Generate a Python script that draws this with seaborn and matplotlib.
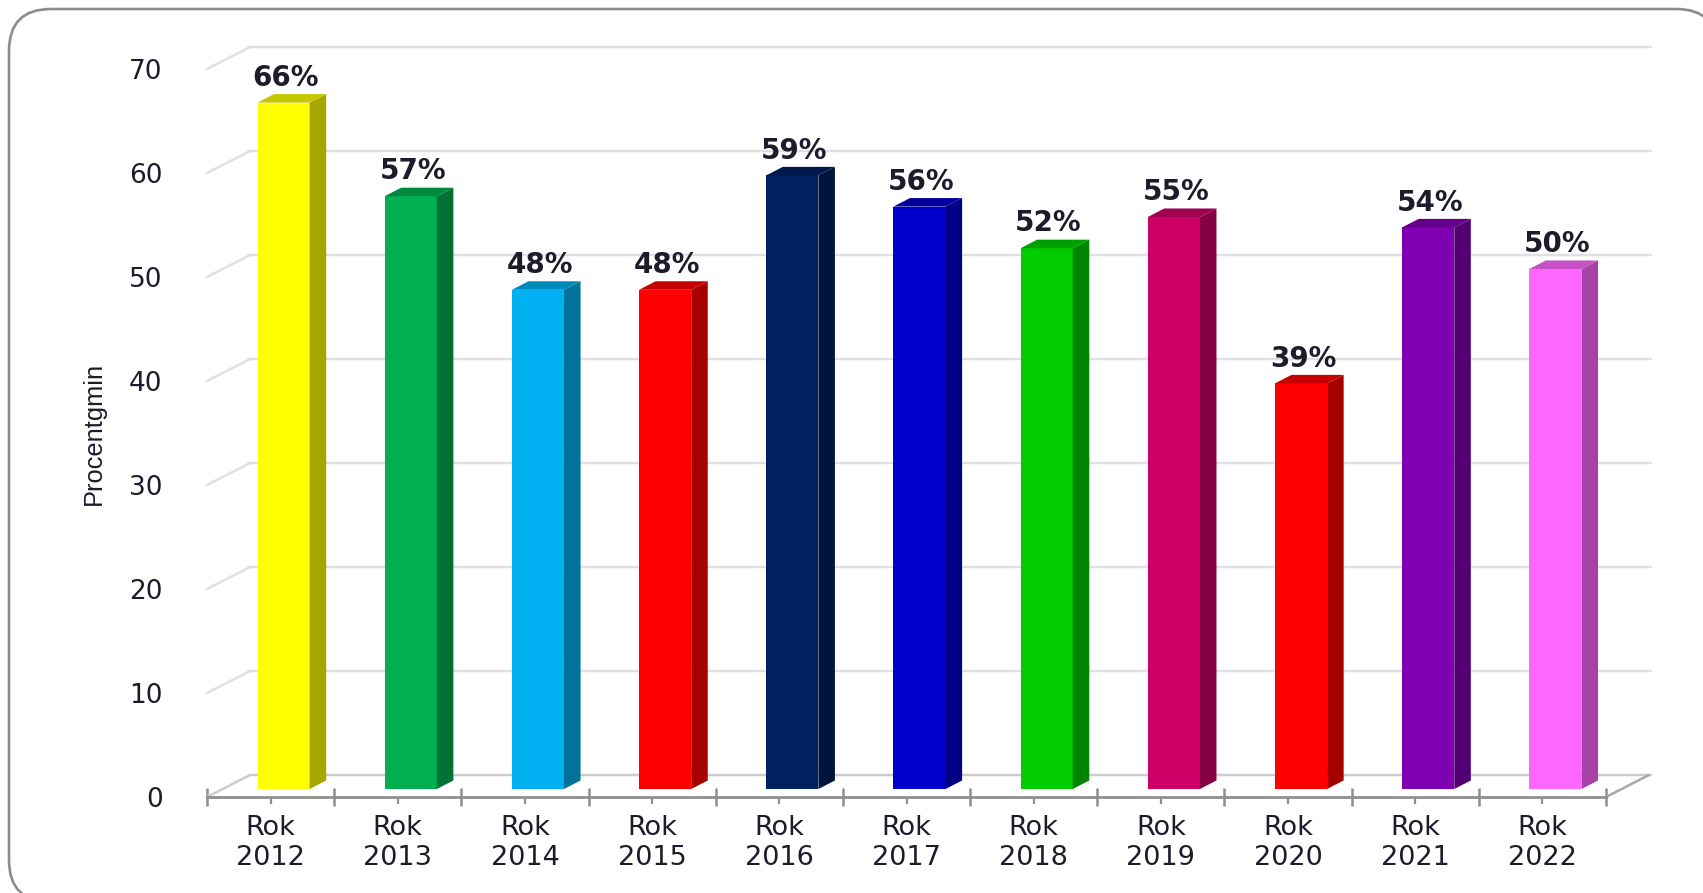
import matplotlib
matplotlib.use('Agg')
import matplotlib.pyplot as plt
import seaborn as sns
from matplotlib.colors import to_rgb
from matplotlib.patches import FancyBboxPatch, Polygon
from matplotlib.transforms import Affine2D

# values
years = ['2012', '2013', '2014', '2015', '2016', '2017', '2018', '2019', '2020', '2021', '2022']
percent = [66, 57, 48, 48, 59, 56, 52, 55, 39, 54, 50]
bar_colors = ['#FFFF00', '#00B050', '#00B0F0', '#FF0000', '#002060', '#0000CC',
              '#00CC00', '#CC0066', '#FF0000', '#7F00B2', '#FF66FF']
y_ticks = [0, 10, 20, 30, 40, 50, 60, 70]
labels = ['Rok\n' + y for y in years]

W, H = 1703, 893
TEXT = '#1c1c2c'
GREY = '#8f8f8f'

sns.set_theme(style='white')
plt.rcParams['font.family'] = ['DejaVu Sans']

fig = plt.figure(figsize=(W / 100, H / 100), dpi=100, facecolor='white')


def px_axes(left, right, bottom, top):
    return fig.add_axes([left / W, 1 - bottom / H, (right - left) / W, (bottom - top) / H])


# rounded frame, runs off the right and bottom edge of the image
to_px = Affine2D().scale(1, -1).translate(0, H)
frame = FancyBboxPatch((9, 9), 1709, 893, boxstyle='round,pad=0,rounding_size=42',
                       fc='white', ec='#8c8c8c', lw=1.9, transform=to_px, clip_on=False, zorder=-1)
fig.add_artist(frame)

# front plane of the fake 3d box: carries the axis, ticks and labels
ax_box = px_axes(207, 1606, 797, 69)
ax_box.set_facecolor('none')
ax_box.set_xlim(-0.5, 10.5)
ax_box.set_ylim(0, 70)
for s in ['top', 'left', 'right']:
    ax_box.spines[s].set_visible(False)
ax_box.spines['bottom'].set_color(GREY)
ax_box.spines['bottom'].set_linewidth(2)

ax_box.set_xticks(range(len(labels)))
ax_box.set_xticklabels(labels, fontsize=19.5, color=TEXT, linespacing=1.2)
ax_box.set_xticks([i - 0.5 for i in range(len(labels) + 1)], minor=True)
ax_box.tick_params(axis='x', which='major', bottom=True, length=5, width=1.6, color=GREY, pad=8)
ax_box.tick_params(axis='x', which='minor', bottom=True, direction='inout', length=13, width=1.8, color=GREY)
ax_box.set_yticks(y_ticks)
ax_box.tick_params(axis='y', left=False, pad=26, labelsize=19, labelcolor=TEXT)

# back wall and side wall lines
depth_x, depth_y = 0.338, 2.115
for v in y_ticks:
    col = '#cccccc' if v == 0 else '#e0e0e0'
    ax_box.plot([-0.5, -0.5 + depth_x, 10.5 + depth_x + 0.015], [v, v + depth_y, v + depth_y],
                color=col, lw=1.8, clip_on=False, solid_joinstyle='miter')
ax_box.plot([10.5, 10.5 + depth_x], [0, depth_y], color='#a8a8a8', lw=1.8, clip_on=False)

# bars sit a little behind the front plane
ax = px_axes(220, 1619, 789, 61)
ax.set_facecolor('none')
sns.barplot(x=labels, y=percent, hue=labels, palette=bar_colors, width=0.41, saturation=1,
            legend=False, ax=ax, zorder=3, linewidth=0)
ax.set_xlim(-0.5, 10.5)
ax.set_ylim(0, 70)
ax.axis('off')

side_x, side_y = 0.13, 0.82
for bar, color, val in zip(list(ax.patches), bar_colors, percent):
    x0 = bar.get_x()
    x1 = x0 + bar.get_width()
    rgb = to_rgb(color)
    side = tuple(c * 0.65 for c in rgb)
    top = tuple(c * 0.78 for c in rgb)
    ax.add_patch(Polygon([(x1, 0), (x1 + side_x, side_y), (x1 + side_x, val + side_y), (x1, val)],
                         fc=side, ec='none', clip_on=False, zorder=3))
    ax.add_patch(Polygon([(x0, val), (x0 + side_x, val + side_y), (x1 + side_x, val + side_y), (x1, val)],
                         fc=top, ec='none', clip_on=False, zorder=3))
    ax.text((x0 + x1) / 2 + 0.015, val + side_y + 0.8, f'{val}%', ha='center', va='baseline',
            fontsize=20, fontweight='bold', color=TEXT, clip_on=False, zorder=5)

fig.text(94 / W, 1 - 433 / H, 'Procentgmin', rotation=90, ha='center', va='center',
         fontsize=18.3, color=TEXT, family='Liberation Sans')

fig.savefig('out.png', dpi=100)
